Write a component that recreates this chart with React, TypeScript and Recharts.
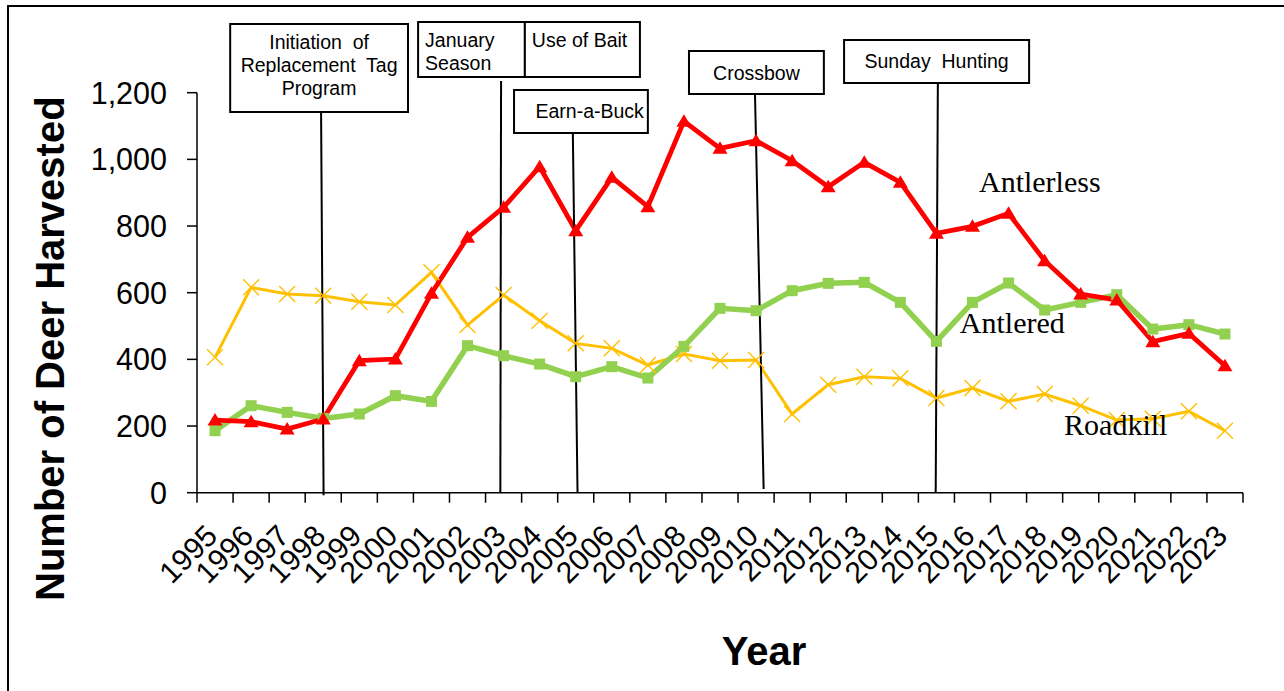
import { LineChart, Line, XAxis, YAxis, ReferenceLine, ReferenceArea, ReferenceDot } from "recharts";

const years = [
  1995, 1996, 1997, 1998, 1999, 2000, 2001, 2002, 2003, 2004, 2005, 2006, 2007, 2008, 2009,
  2010, 2011, 2012, 2013, 2014, 2015, 2016, 2017, 2018, 2019, 2020, 2021, 2022, 2023,
];
const antlerless = [
  218, 213, 191, 221, 396, 401, 598, 766, 856, 978, 786, 946, 858, 1114, 1033,
  1056, 996, 918, 991, 931, 778, 799, 838, 696, 596, 578, 453, 478, 381,
];
const antlered = [
  186, 261, 241, 223, 236, 291, 274, 441, 411, 386, 348, 378, 344, 439, 553,
  546, 606, 628, 631, 571, 454, 571, 629, 548, 571, 594, 491, 504, 476,
];
const roadkill = [
  406, 616, 596, 591, 573, 563, 661, 503, 593, 516, 448, 433, 383, 416, 396,
  398, 236, 324, 348, 343, 284, 314, 274, 296, 261, 218, 222, 244, 186,
];
const yTicks = [0, 200, 400, 600, 800, 1000, 1200];

const data = years.map((year, i) => ({
  year,
  antlerless: antlerless[i],
  antlered: antlered[i],
  roadkill: roadkill[i],
}));

// tick marks sit between the years
const boundaries = [...years.map((y) => y - 0.5), years[years.length - 1] + 0.5];

const SANS = "'Liberation Sans', Arial, Helvetica, sans-serif";
const SERIF = "'Liberation Serif', 'Times New Roman', serif";

// regulation change call-outs: box in data units, leader line in data units
type Note = {
  lines: string[];
  box: [number, number, number, number]; // x1, x2, y1, y2
  align: "start" | "middle" | "end";
  first: number; // baseline offset of first line from box top
  leader?: [number, number, number, number]; // xTop, yTop, xBottom, yBottom
};

const notes: Note[] = [
  {
    lines: ["Initiation  of", "Replacement  Tag", "Program"],
    box: [1995.42, 2000.35, 1142, 1406],
    align: "middle",
    first: 25,
    leader: [1997.94, 1142, 1998.01, -8],
  },
  {
    lines: ["January", "Season"],
    box: [2000.63, 2003.59, 1247, 1412],
    align: "start",
    first: 25,
    leader: [2002.93, 1235, 2002.91, 0],
  },
  {
    lines: ["Use of Bait"],
    box: [2003.59, 2006.78, 1247, 1412],
    align: "start",
    first: 25,
  },
  {
    lines: ["Earn-a-Buck"],
    box: [2003.29, 2007.0, 1079, 1208],
    align: "end",
    first: 28,
    leader: [2004.92, 1079, 2005.05, 0],
  },
  {
    lines: ["Crossbow"],
    box: [2008.14, 2011.88, 1196, 1325],
    align: "middle",
    first: 29,
    leader: [2009.97, 1196, 2010.21, 11],
  },
  {
    lines: ["Sunday  Hunting"],
    box: [2012.44, 2017.57, 1229, 1358],
    align: "middle",
    first: 28,
    leader: [2015.04, 1229, 2014.98, 0],
  },
];

const seriesLabels = [
  { text: "Antlerless", x: 2016.18, y: 903 },
  { text: "Antlered", x: 2015.65, y: 479 },
  { text: "Roadkill", x: 2018.54, y: 173 },
];

const Triangle = (props: any) => {
  const { cx, cy, index } = props;
  if (cx == null || cy == null) return null;
  return (
    <polygon
      key={`tri-${index}`}
      points={`${cx},${cy - 7} ${cx - 7.5},${cy + 5.5} ${cx + 7.5},${cy + 5.5}`}
      fill="#FF0000"
    />
  );
};

const Square = (props: any) => {
  const { cx, cy, index } = props;
  if (cx == null || cy == null) return null;
  return <rect key={`sq-${index}`} x={cx - 5.5} y={cy - 5.5} width={11} height={11} fill="#92D050" />;
};

const Cross = (props: any) => {
  const { cx, cy, index } = props;
  if (cx == null || cy == null) return null;
  return (
    <path
      key={`x-${index}`}
      d={`M${cx - 8},${cy - 8}L${cx + 8},${cy + 8}M${cx - 8},${cy + 8}L${cx + 8},${cy - 8}`}
      stroke="#FFC000"
      strokeWidth={1.4}
      fill="none"
    />
  );
};

const YearTick = (props: any) => {
  const { x, y, payload } = props;
  const ax = x + 4;
  const ay = y + 45;
  return (
    <text
      x={ax}
      y={ay}
      textAnchor="end"
      transform={`rotate(-45, ${ax}, ${ay})`}
      fontSize={30}
      fontFamily={SANS}
      fill="#000"
    >
      {payload.value}
    </text>
  );
};

const noteLabel = (note: Note) => (props: any) => {
  const vb = props.viewBox;
  if (!vb) return null;
  const tx =
    note.align === "start" ? vb.x + 7 : note.align === "end" ? vb.x + vb.width - 4 : vb.x + vb.width / 2;
  return (
    <text
      x={tx}
      y={vb.y + note.first}
      textAnchor={note.align}
      fontSize={19.5}
      fontFamily={SANS}
      fill="#000"
      style={{ whiteSpace: "pre" }}
    >
      {note.lines.map((line, i) => (
        <tspan key={i} x={tx} dy={i === 0 ? 0 : 23}>
          {line}
        </tspan>
      ))}
    </text>
  );
};

const seriesLabel = (text: string) => (props: any) => {
  const vb = props.viewBox;
  if (!vb) return null;
  return (
    <text x={vb.x} y={vb.y} fontSize={30} fontFamily={SERIF} fill="#000">
      {text}
    </text>
  );
};

export default function App() {
  return (
    <div
      style={{
        position: "absolute",
        left: 0,
        top: 0,
        width: 1284,
        height: 691,
        overflow: "hidden",
        background: "#fff",
      }}
    >
      <div style={{ position: "absolute", left: 0, top: 0 }}>
        <LineChart width={1284} height={691} data={data} margin={{ top: 92.7, right: 41, bottom: 0, left: 0 }}>
          <XAxis
            dataKey="year"
            type="number"
            domain={[1994.5, 2023.5]}
            ticks={years}
            interval={0}
            tickLine={false}
            tickSize={0}
            tickMargin={0}
            axisLine={{ stroke: "#000", strokeWidth: 1.5 }}
            tick={YearTick}
            height={198.3}
            label={(props: any) => {
              const vb = props.viewBox;
              if (!vb) return null;
              return (
                <text
                  x={vb.x + vb.width / 2 + 44}
                  y={vb.y + 172}
                  textAnchor="middle"
                  fontSize={40}
                  fontWeight="bold"
                  fontFamily={SANS}
                  fill="#000"
                >
                  Year
                </text>
              );
            }}
          />
          <YAxis
            type="number"
            domain={[0, 1200]}
            ticks={yTicks}
            interval={0}
            width={197}
            tickSize={10}
            tickMargin={20}
            tickLine={{ stroke: "#000", strokeWidth: 1.5 }}
            axisLine={{ stroke: "#000", strokeWidth: 1.5 }}
            tickFormatter={(v: number) => v.toLocaleString("en-US")}
            tick={{ fontSize: 30.5, fontFamily: SANS, fill: "#000" }}
            label={(props: any) => {
              const vb = props.viewBox;
              if (!vb) return null;
              const cx = vb.x + 50;
              const cy = vb.y + vb.height / 2 + 56;
              return (
                <text
                  x={cx}
                  y={cy}
                  textAnchor="middle"
                  dominantBaseline="central"
                  transform={`rotate(-90, ${cx}, ${cy})`}
                  fontSize={40}
                  fontWeight="bold"
                  fontFamily={SANS}
                  fill="#000"
                >
                  Number of Deer Harvested
                </text>
              );
            }}
          />
          {boundaries.map((b) => (
            <ReferenceLine
              key={`b-${b}`}
              segment={[
                { x: b, y: 0 },
                { x: b, y: -30 },
              ]}
              stroke="#000"
              strokeWidth={1.5}
              ifOverflow="visible"
            />
          ))}
          <Line
            dataKey="roadkill"
            stroke="#FFC000"
            strokeWidth={3}
            dot={Cross}
            activeDot={false}
            isAnimationActive={false}
          />
          <Line
            dataKey="antlered"
            stroke="#92D050"
            strokeWidth={5.5}
            dot={Square}
            activeDot={false}
            isAnimationActive={false}
          />
          <Line
            dataKey="antlerless"
            stroke="#FF0000"
            strokeWidth={4.8}
            dot={Triangle}
            activeDot={false}
            isAnimationActive={false}
          />
          {notes.map((n, i) =>
            n.leader ? (
              <ReferenceLine
                key={`lead-${i}`}
                segment={[
                  { x: n.leader[0], y: n.leader[1] },
                  { x: n.leader[2], y: n.leader[3] },
                ]}
                stroke="#000"
                strokeWidth={2}
                ifOverflow="visible"
              />
            ) : null
          )}
          {notes.map((n, i) => (
            <ReferenceArea
              key={`box-${i}`}
              x1={n.box[0]}
              x2={n.box[1]}
              y1={n.box[2]}
              y2={n.box[3]}
              fill="#fff"
              fillOpacity={1}
              stroke="#000"
              strokeWidth={2}
              ifOverflow="visible"
              label={noteLabel(n)}
            />
          ))}
          {seriesLabels.map((s) => (
            <ReferenceDot
              key={s.text}
              x={s.x}
              y={s.y}
              r={0}
              fill="none"
              stroke="none"
              ifOverflow="visible"
              label={seriesLabel(s.text)}
            />
          ))}
        </LineChart>
      </div>
      {/* frame around the figure, open at the right and bottom */}
      <div
        style={{
          position: "absolute",
          left: 7,
          top: 5,
          width: 1300,
          height: 720,
          borderLeft: "2px solid #000",
          borderTop: "2px solid #000",
          pointerEvents: "none",
        }}
      />
    </div>
  );
}
